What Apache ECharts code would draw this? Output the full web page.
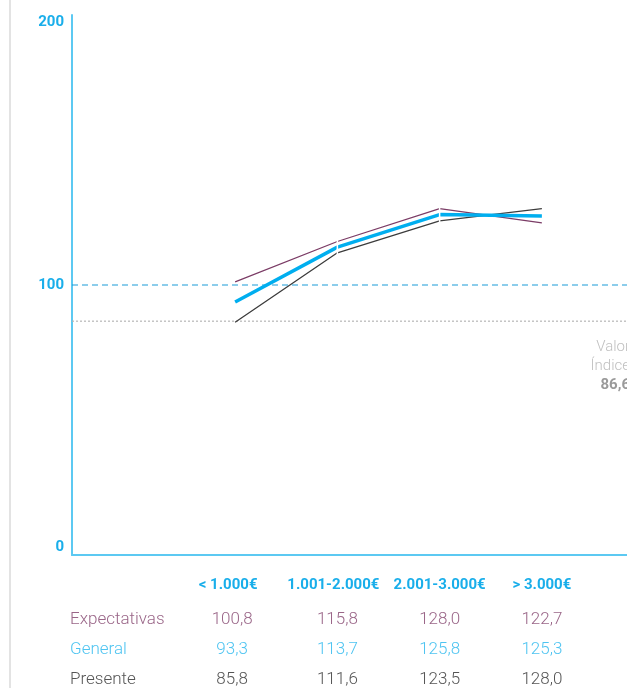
<!DOCTYPE html>
<html>
<head>
<meta charset="utf-8">
<script src="https://cdn.jsdelivr.net/npm/echarts@6/dist/echarts.min.js"></script>
<style>
  html, body { margin: 0; padding: 0; background: #fff; }
  #chart { width: 627px; height: 688px; }
</style>
</head>
<body>
<div id="chart"></div>
<script>
// Income brackets and index values per series
const categories = ['< 1.000€', '1.001-2.000€', '2.001-3.000€', '> 3.000€'];
const expectativas = [100.8, 115.8, 128.0, 122.7];
const general = [93.3, 113.7, 125.8, 125.3];
const presente = [85.8, 111.6, 123.5, 128.0];
const seriesNames = ['Expectativas', 'General', 'Presente'];
const yMin = 0, yMax = 200, yStep = 100;
const baseLine = 100;
const valorIndice = 86.6;

const colors = {
  axis: '#5cc9f2',
  tick: '#19aeea',
  base: '#1a9cd8',
  ref: '#b5b5b5',
  expLine: '#7b3c66',
  expText: '#9a6688',
  genLine: '#00aeef',
  genText: '#4ec4f1',
  preLine: '#3c3c3c',
  preText: '#555555'
};

const fmt = v => v.toFixed(1).replace('.', ',');
const font = 'Roboto, "Noto Sans", sans-serif';

// white cut at the inner vertices of each line
const cut = (val, p) => (p.dataIndex === 1 || p.dataIndex === 2) ? 'rect' : 'none';

// the two lower brackets sit a little left of their points
const catShift = [14, 8, 0, 0];

function valueRow(values, color, offset) {
  return {
    type: 'category', gridIndex: 1, position: 'bottom', offset: offset,
    data: values.map((v, i) => ({ value: fmt(v), textStyle: { padding: [0, i === 0 ? 6 : 0, 0, 0] } })),
    axisLine: { show: false }, axisTick: { show: false },
    axisLabel: { color: color, fontFamily: font, fontSize: 17, fontWeight: 300, margin: 0, interval: 0 }
  };
}

// horizontal reference line across the whole plot (x from 0 to 1 on the full-width axis)
function refLine(value, color, dash, endLabel) {
  return {
    type: 'line', xAxisIndex: 0, yAxisIndex: 0, silent: true,
    symbol: 'circle', symbolSize: 0, showSymbol: true,
    lineStyle: { color: color, type: dash, width: 1.2 },
    itemStyle: { color: color },
    data: [[0, value], { value: [1, value], label: endLabel }]
  };
}

const chart = echarts.init(document.getElementById('chart'));
chart.setOption({
  animation: false,
  grid: [
    { left: 72, right: 0, top: 15, bottom: 133 },
    { left: 184, width: 409, top: 15, bottom: 133 }
  ],
  xAxis: [
    { type: 'value', gridIndex: 0, min: 0, max: 1,
      axisLine: { show: true, lineStyle: { color: colors.axis, width: 2 } },
      axisTick: { show: false }, axisLabel: { show: false }, splitLine: { show: false } },
    { type: 'category', gridIndex: 1,
      data: categories.map((c, i) => ({ value: c, textStyle: { padding: [0, catShift[i], 0, 0] } })),
      axisLine: { show: false }, axisTick: { show: false },
      axisLabel: { color: colors.tick, fontFamily: font, fontSize: 15, fontWeight: 'bold', margin: 25, interval: 0 } },
    valueRow(expectativas, colors.expText, 58),
    valueRow(general, colors.genText, 88),
    valueRow(presente, colors.preText, 118)
  ],
  yAxis: [
    { type: 'value', gridIndex: 0, min: yMin, max: yMax, interval: yStep,
      axisLine: { show: true, lineStyle: { color: colors.axis, width: 2 } },
      axisTick: { show: false }, splitLine: { show: false },
      axisLabel: { color: colors.tick, fontFamily: font, fontSize: 15, fontWeight: 'bold', margin: 8,
        verticalAlignMaxLabel: 'top', verticalAlignMinLabel: 'bottom' } },
    { type: 'value', gridIndex: 1, min: yMin, max: yMax, interval: yStep, show: false }
  ],
  series: [
    refLine(baseLine, colors.base, [6, 4], { show: false }),
    refLine(valorIndice, colors.ref, [2, 2], {
      show: true, position: 'bottom', distance: 0, offset: [3, 17], align: 'right', verticalAlign: 'top',
      formatter: p => 'Valor\nÍndice\n{b|' + fmt(p.value[1]) + '}',
      color: '#c0c0c0', fontFamily: font, fontSize: 15, fontWeight: 300, lineHeight: 19,
      rich: { b: { color: '#9a9a9a', fontWeight: 'bold', fontFamily: font, fontSize: 15, lineHeight: 19 } }
    }),
    { name: seriesNames[0], type: 'line', xAxisIndex: 1, yAxisIndex: 1, data: expectativas,
      symbol: cut, symbolSize: [1.5, 8], itemStyle: { color: '#fff', borderWidth: 0 },
      lineStyle: { color: colors.expLine, width: 1.3 } },
    { name: seriesNames[2], type: 'line', xAxisIndex: 1, yAxisIndex: 1, data: presente,
      symbol: cut, symbolSize: [1.5, 8], itemStyle: { color: '#fff', borderWidth: 0 },
      lineStyle: { color: colors.preLine, width: 1.3 } },
    { name: seriesNames[1], type: 'line', xAxisIndex: 1, yAxisIndex: 1, data: general,
      symbol: cut, symbolSize: [1.5, 9], itemStyle: { color: '#fff', borderWidth: 0 },
      lineStyle: { color: colors.genLine, width: 3.5 } }
  ],
  graphic: [
    { type: 'line', shape: { x1: 10, y1: 0, x2: 10, y2: 688 }, style: { stroke: '#e3e3e3', lineWidth: 2 } },
    { type: 'text', left: 70, top: 611, style: { text: seriesNames[0], fill: colors.expText, font: '300 17px ' + font } },
    { type: 'text', left: 70, top: 641, style: { text: seriesNames[1], fill: colors.genText, font: '300 17px ' + font } },
    { type: 'text', left: 70, top: 671, style: { text: seriesNames[2], fill: colors.preText, font: '300 17px ' + font } }
  ]
});
</script>
</body>
</html>
